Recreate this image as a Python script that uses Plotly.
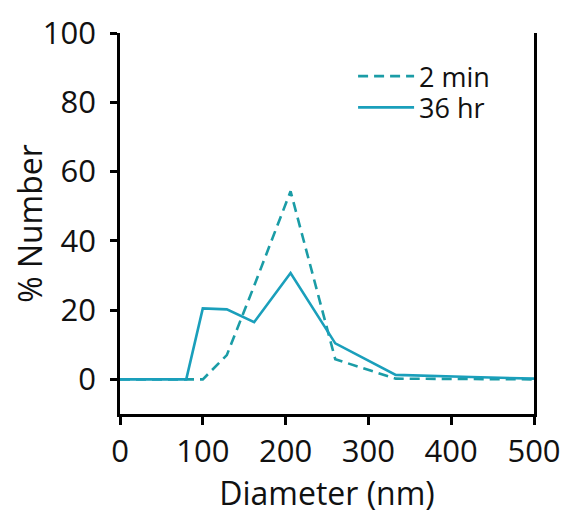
import plotly.graph_objects as go

# Data
diam_2min = [0, 100, 129, 162, 206, 260, 333, 424, 500]
num_2min = [0, 0, 7.0, 27.0, 54.3, 5.8, 0.2, 0.1, 0.0]

diam_36hr = [0, 80, 100, 129, 162, 206, 260, 333, 424, 500]
num_36hr = [0, 0, 20.5, 20.2, 16.5, 30.7, 10.4, 1.3, 0.7, 0.2]

x_ticks = [0, 100, 200, 300, 400, 500]
y_ticks = [0, 20, 40, 60, 80, 100]

FONT = "Open Sans"
TXT = "#111111"

fig = go.Figure()
fig.add_trace(go.Scatter(x=diam_2min, y=num_2min, mode="lines", name="2 min",
                         legend="legend",
                         line=dict(color="#1a9ca6", width=2.6, dash="10px,6px")))
fig.add_trace(go.Scatter(x=diam_36hr, y=num_36hr, mode="lines", name="36 hr",
                         legend="legend2",
                         line=dict(color="#1a9fbb", width=2.6)))

leg_common = dict(xanchor="left", yanchor="top", bgcolor="rgba(0,0,0,0)",
                  font=dict(size=27, family=FONT, color=TXT), itemwidth=56)

# page has an 8px body margin: figure is 560x506 so it fills the 568x514 window
fig.update_layout(
    width=560, height=506,
    margin=dict(l=112, r=34, t=25, b=100, autoexpand=False),
    paper_bgcolor="white", plot_bgcolor="white",
    font=dict(family=FONT, size=31, color=TXT),
    showlegend=True,
    legend=dict(x=0.563, y=0.95, **leg_common),
    legend2=dict(x=0.563, y=0.868, **leg_common),
)
fig.update_xaxes(range=[0, 500], tickvals=x_ticks, showgrid=False, zeroline=False,
                 showline=True, linecolor="black", linewidth=2.5,
                 ticks="outside", ticklen=8, tickwidth=2.5, tickcolor="black",
                 title=dict(text="Diameter (nm)", standoff=6, font=dict(size=32, family=FONT, color=TXT)),
                 tickfont=dict(size=31), mirror=False, automargin=False)
fig.update_yaxes(range=[-10, 100], tickvals=y_ticks, showgrid=False, zeroline=False,
                 showline=True, linecolor="black", linewidth=2.5,
                 ticks="outside", ticklen=7, tickwidth=2.5, tickcolor="black",
                 title=dict(text="% Number", standoff=0, font=dict(size=32, family=FONT, color=TXT)),
                 tickfont=dict(size=31), mirror=True, ticklabelstandoff=8, automargin=False)

fig.write_html("out.html")
